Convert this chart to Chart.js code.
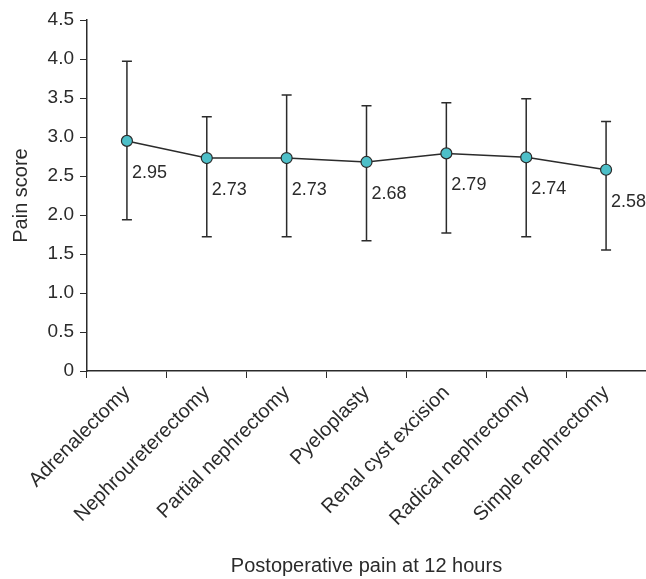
<!DOCTYPE html>
<html><head><meta charset="utf-8">
<script src="https://cdn.jsdelivr.net/npm/chart.js@4/dist/chart.umd.min.js"></script>
<style>html,body{margin:0;padding:0;background:#fff;overflow:hidden}#wrap{width:646px;height:579px}</style>
</head><body><div id="wrap"><canvas id="c" width="646" height="579"></canvas></div>
<script>
const categories = ['Adrenalectomy','Nephroureterectomy','Partial nephrectomy','Pyeloplasty','Renal cyst excision','Radical nephrectomy','Simple nephrectomy'];
const meanScores = [2.95, 2.73, 2.73, 2.68, 2.79, 2.74, 2.58];
const upperBars = [3.97, 3.26, 3.54, 3.40, 3.44, 3.49, 3.20];
const lowerBars = [1.94, 1.72, 1.72, 1.67, 1.77, 1.72, 1.55];
const yTicks = [0, 0.5, 1.0, 1.5, 2.0, 2.5, 3.0, 3.5, 4.0, 4.5];

const FONT = 'Liberation Sans, Arial, sans-serif';
const DARK = '#2b2b2b';

const errorBarPlugin = {
  id: 'errorBars',
  beforeDatasetsDraw(chart) {
    const ctx = chart.ctx, xs = chart.scales.x, ys = chart.scales.y;
    ctx.save();
    ctx.strokeStyle = DARK; ctx.lineWidth = 1.5;
    categories.forEach((c, i) => {
      const x = xs.getPixelForValue(i);
      const yt = ys.getPixelForValue(upperBars[i]);
      const yb = ys.getPixelForValue(lowerBars[i]);
      ctx.beginPath();
      ctx.moveTo(x, yt); ctx.lineTo(x, yb);
      ctx.moveTo(x - 5, yt); ctx.lineTo(x + 5, yt);
      ctx.moveTo(x - 5, yb); ctx.lineTo(x + 5, yb);
      ctx.stroke();
    });
    ctx.restore();
  },
  afterDatasetsDraw(chart) {
    const ctx = chart.ctx, xs = chart.scales.x, ys = chart.scales.y;
    ctx.save();
    ctx.fillStyle = DARK;
    ctx.font = '18px ' + FONT;
    ctx.textAlign = 'left'; ctx.textBaseline = 'middle';
    meanScores.forEach((v, i) => {
      const x = xs.getPixelForValue(i);
      const y = ys.getPixelForValue(v);
      ctx.fillText(v.toFixed(2), x + 5, y + 32);
    });
    ctx.restore();
  }
};

new Chart(document.getElementById('c'), {
  type: 'line',
  data: {
    labels: categories,
    datasets: [{
      data: meanScores,
      borderColor: DARK,
      borderWidth: 1.5,
      pointRadius: 5.5,
      pointBackgroundColor: '#4dbfc8',
      pointBorderColor: DARK,
      pointBorderWidth: 1.2,
      tension: 0,
      fill: false,
      clip: false
    }]
  },
  options: {
    responsive: false,
    animation: false,
    devicePixelRatio: 1,
    layout: { autoPadding: false, padding: { top: 20, right: 0, left: 0, bottom: 0 } },
    plugins: { legend: { display: false }, tooltip: { enabled: false } },
    scales: {
      x: {
        type: 'category',
        offset: true,
        grid: { offset: true, drawOnChartArea: false, tickLength: 7, color: DARK, tickColor: DARK },
        border: { color: DARK, width: 1.5 },
        ticks: { color: DARK, font: { family: FONT, size: 20 }, minRotation: 45, maxRotation: 45, padding: 3, autoSkip: false },
        title: { display: true, text: 'Postoperative pain at 12 hours', color: DARK, font: { family: FONT, size: 20 }, padding: { top: 0, bottom: 1 } },
        afterFit(s) { s.height = 208; s.paddingRight = 0; s.paddingLeft = 0; }
      },
      y: {
        min: 0, max: 4.5,
        afterBuildTicks(s) { s.ticks = yTicks.map(v => ({ value: v })); },
        grid: { drawOnChartArea: false, tickLength: 7, color: DARK, tickColor: DARK },
        border: { color: DARK, width: 1.5 },
        ticks: { color: DARK, font: { family: FONT, size: 19 }, padding: 6,
          callback: (v) => v === 0 ? '0' : Number(v).toFixed(1) },
        title: { display: true, text: 'Pain score', color: DARK, font: { family: FONT, size: 20 }, padding: { top: 9, bottom: 0 } },
        afterFit(s) { s.width = 87; s.paddingTop = 0; s.paddingBottom = 0; }
      }
    }
  },
  plugins: [errorBarPlugin]
});
</script>
</body></html>
